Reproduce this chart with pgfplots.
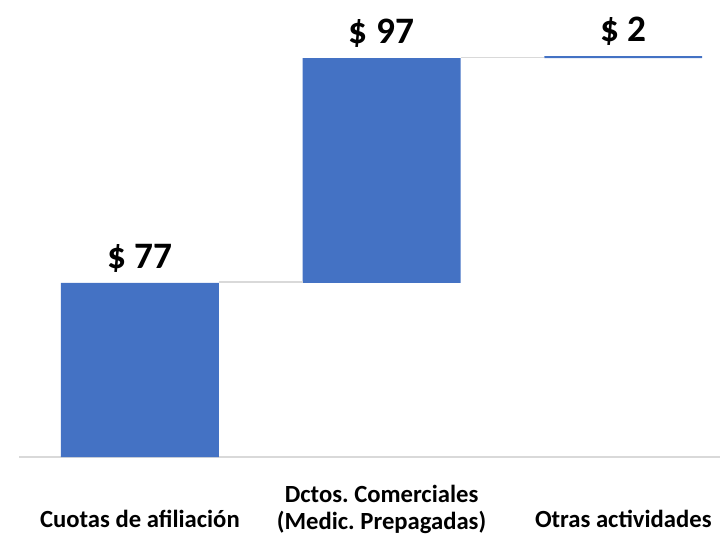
\documentclass[border=0pt]{standalone}
\usepackage{fontspec}
\setmainfont{Carlito}
\usepackage{pgfplots}
\pgfplotsset{compat=1.18}
\definecolor{bblue}{HTML}{4472C4}
\definecolor{conn}{HTML}{D9D9D9}
\frenchspacing
\begin{document}
\begin{tikzpicture}
\begin{axis}[
  scale only axis, width=525.75pt, height=322.05pt,
  xmin=-0.5, xmax=2.4, ymin=0, ymax=190,
  axis x line*=bottom, hide y axis,
  x axis line style={draw=conn, line width=1pt, -},
  major tick length=0pt,
  ybar stacked, bar width=0.653,
  xtick={0,1,2},
  xticklabels={{\strut\\Cuotas de afiliación},{\strut Dctos. Comerciales\\(Medic. Prepagadas)},{\strut\\Otras actividades}},
  xticklabel style={font=\bfseries\fontsize{18.5}{18.75}\selectfont, align=center, anchor=north, inner sep=0pt, yshift=-20.6pt},
  clip=false,
]
\coordinate (bl) at (rel axis cs:0,0);
\addplot[draw=none, fill=none] coordinates {(0,0) (1,77) (2,176.5)};
\addplot[fill=bblue, draw=none] coordinates {(0,77) (1,99.5) (2,0.9)};
\end{axis}
\begin{axis}[
  scale only axis, width=525.75pt, height=322.05pt,
  xmin=-0.5, xmax=2.4, ymin=0, ymax=190,
  hide axis, clip=false,
]
\addplot[conn, line width=1pt] coordinates {(0.3265,77.4) (0.6735,77.4)};
\addplot[conn, line width=1pt] coordinates {(1.3265,176.9) (1.6735,176.9)};
\addplot[draw=none, mark=none, nodes near coords, point meta=explicit symbolic,
  every node near coord/.style={font=\bfseries\fontsize{28}{32}\selectfont, anchor=base, inner sep=0pt, yshift=11pt, text=black}]
  coordinates {(0,77) [\$ 77] (1,176.5) [\$ 97] (2,177.4) [\$ 2]};
\end{axis}
\pgfresetboundingbox
\path (bl) ++(-14.25pt,-58.5pt) rectangle ++(540pt,401.25pt);
\end{tikzpicture}
\end{document}
